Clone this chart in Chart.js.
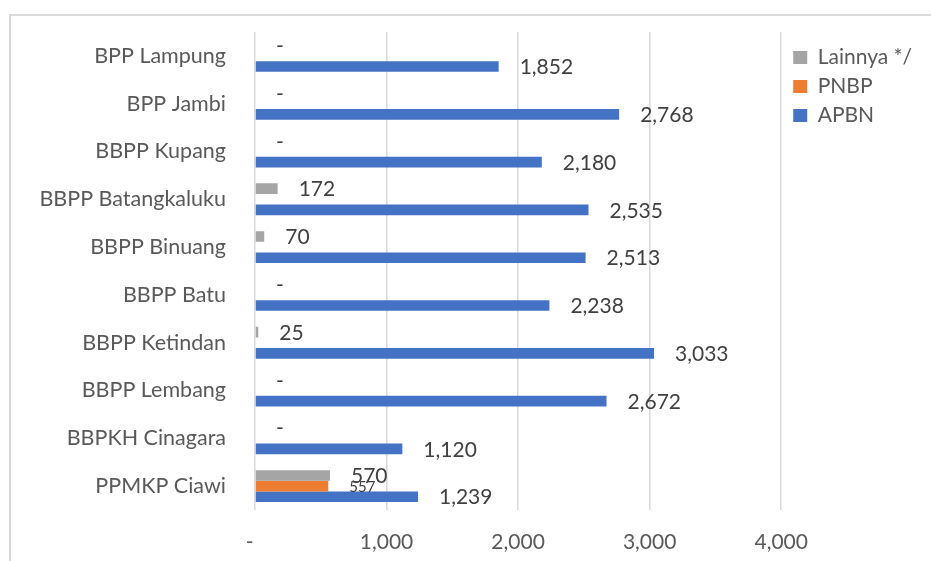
<!DOCTYPE html>
<html>
<head>
<meta charset="utf-8">
<script src="https://cdn.jsdelivr.net/npm/chart.js@4/dist/chart.umd.min.js"></script>
<style>
  html, body { margin: 0; padding: 0; background: #ffffff; }
  #wrap { position: relative; width: 931px; height: 561px; overflow: hidden; }
  #frame { position: absolute; left: 9px; top: 14px; width: 1000px; height: 600px;
           border-left: 2px solid #d9d9d9; border-top: 2px solid #d9d9d9; }
  canvas { position: absolute; left: 0; top: 0; }
</style>
</head>
<body>
<div id="wrap">
  <div id="frame"></div>
  <canvas id="c" width="931" height="561"></canvas>
</div>
<script>
const categories = ["BPP Lampung", "BPP Jambi", "BBPP Kupang", "BBPP Batangkaluku", "BBPP Binuang",
                    "BBPP Batu", "BBPP Ketindan", "BBPP Lembang", "BBPKH Cinagara", "PPMKP Ciawi"];
const lainnya = [0, 0, 0, 172, 70, 0, 25, 0, 0, 570];
const pnbp    = [null, null, null, null, null, null, null, null, null, 557];
const apbn    = [1852, 2768, 2180, 2535, 2513, 2238, 3033, 2672, 1120, 1239];
const xTicks  = [0, 1000, 2000, 3000, 4000];

const FONT = "Lato";

const labelPlugin = {
  id: 'valueLabels',
  afterDatasetsDraw(chart) {
    const ctx = chart.ctx;
    ctx.save();
    chart.data.datasets.forEach((ds, di) => {
      const meta = chart.getDatasetMeta(di);
      if (meta.hidden) return;
      meta.data.forEach((el, i) => {
        const v = ds.data[i];
        if (v === null || v === undefined) return;
        const txt = v === 0 ? '-' : v.toLocaleString('en-US');
        ctx.font = (ds.labelSize || 21) + 'px ' + FONT;
        ctx.fillStyle = '#404040';
        ctx.textAlign = 'left';
        ctx.textBaseline = 'middle';
        ctx.fillText(txt, el.x + 21, el.y + (ds.labelDy || 0));
      });
    });
    ctx.restore();
  }
};

const shiftLegend = {
  id: 'shiftLegend',
  afterLayout(chart) {
    const lg = chart.legend;
    if (lg) { lg.left += 4; lg.right += 4; }
  }
};

new Chart(document.getElementById('c'), {
  type: 'bar',
  data: {
    labels: categories,
    datasets: [
      { label: 'Lainnya */', data: lainnya, backgroundColor: '#A5A5A5', labelSize: 21, labelDy: 1 },
      { label: 'PNBP', data: pnbp, backgroundColor: '#ED7D31', labelSize: 15, labelDy: 1 },
      { label: 'APBN', data: apbn, backgroundColor: '#4472C4', labelSize: 21, labelDy: 1 }
    ]
  },
  options: {
    indexAxis: 'y',
    responsive: false,
    animation: false,
    devicePixelRatio: 1,
    layout: { padding: { top: 32, left: 0, right: 13, bottom: 0 } },
    datasets: { bar: { categoryPercentage: 0.667, barPercentage: 1.0, borderWidth: 0 } },
    scales: {
      x: {
        type: 'linear', min: 0, max: 4000,
        afterBuildTicks(scale) { scale.ticks = xTicks.map(v => ({ value: v })); },
        afterFit(scale) { scale.height = 51; },
        grid: { color: '#d9d9d9', lineWidth: 1.5, drawTicks: false },
        border: { display: false },
        ticks: {
          padding: 20,
          color: '#595959',
          font: { family: FONT, size: 21 },
          callback: (v) => v === 0 ? '-  ' : Number(v).toLocaleString('en-US')
        }
      },
      y: {
        afterFit(scale) { scale.width = 255; scale.paddingTop = 0; scale.paddingBottom = 0; },
        grid: { display: false, drawTicks: false },
        border: { display: false },
        ticks: { padding: 29, color: '#595959', font: { family: FONT, size: 21.5 } }
      }
    },
    plugins: {
      tooltip: { enabled: false },
      legend: {
        position: 'right',
        align: 'start',
        title: { display: true, text: ' ', font: { size: 1, lineHeight: 1 }, padding: { top: 6, bottom: 0 } },
        labels: {
          boxWidth: 14, boxHeight: 13, padding: 8,
          color: '#595959',
          font: { family: FONT, size: 21 }
        }
      }
    }
  },
  plugins: [labelPlugin, shiftLegend]
});
</script>
</body>
</html>
